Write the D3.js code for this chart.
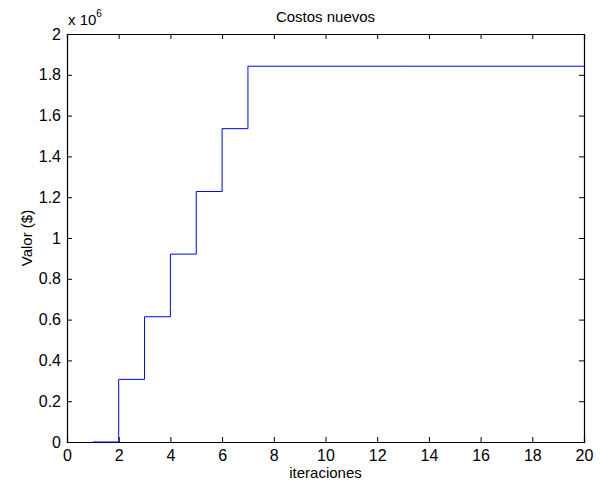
<!DOCTYPE html>
<html>
<head>
<meta charset="utf-8">
<script src="https://cdn.jsdelivr.net/npm/d3@7"></script>
<style>
body{margin:0;background:#fff;}
text{font-family:"Liberation Sans",Arial,sans-serif;}
</style>
</head>
<body>
<div class="container"></div>
<script>
// iteration and cost (in millions)
const iterations = [1,2,3,4,5,6,7,8,9,10,11,12,13,14,15,16,17,18,19,20];
const costs = [0,0.307,0.614,0.921,1.228,1.536,1.842,1.842,1.842,1.842,1.842,1.842,1.842,1.842,1.842,1.842,1.842,1.842,1.842,1.842];
const xTicks = [0,2,4,6,8,10,12,14,16,18,20];
const yTicks = [0,0.2,0.4,0.6,0.8,1,1.2,1.4,1.6,1.8,2];

const width = 601, height = 485;
const padLeft = 67, padRight = 584, padTop = 34, padBottom = 442;

const svg = d3.select(".container").append("svg").attr("width",width).attr("height",height)

const xScale = d3.scaleLinear().domain([0,20]).range([padLeft,padRight])
const yScale = d3.scaleLinear().domain([0,2]).range([padBottom,padTop])

// axes, ticks inward like matlab
const tick = 5;
svg.append("g").attr("transform","translate(0,"+padBottom+")")
    .call(d3.axisBottom(xScale).tickValues(xTicks).tickSize(-tick).tickPadding(8).tickFormat(d3.format("d")))
svg.append("g").attr("transform","translate(0,"+padTop+")")
    .call(d3.axisTop(xScale).tickValues(xTicks).tickSize(-tick).tickFormat(""))
svg.append("g").attr("transform","translate("+padLeft+",0)")
    .call(d3.axisLeft(yScale).tickValues(yTicks).tickSize(-tick).tickPadding(6).tickFormat((d)=> d3.format("")(+d.toFixed(1))))
svg.append("g").attr("transform","translate("+padRight+",0)")
    .call(d3.axisRight(yScale).tickValues(yTicks).tickSize(-tick).tickFormat(""))

svg.selectAll(".domain").attr("stroke","#000").attr("stroke-width",1.2)
svg.selectAll(".tick line").attr("stroke","#000")
svg.selectAll(".tick text").attr("fill","#000").style("font-size","16px").style("font-family","'Liberation Sans',Arial,sans-serif")

// stairs line, on top of the axes
const line = d3.line()
    .x((d)=> xScale(d[0]))
    .y((d)=> yScale(d[1]))
    .curve(d3.curveStepAfter)
svg.append("path")
    .datum(iterations.map((it,i)=>[it,costs[i]]))
    .attr("d",line)
    .attr("fill","none")
    .attr("stroke","#0000ff")
    .attr("stroke-width",1)

svg.append("text").text("Costos nuevos")
    .attr("x",(padLeft+padRight)/2).attr("y",22)
    .attr("text-anchor","middle").style("font-size","15px")

const exp = svg.append("text").attr("x",padLeft+1).attr("y",25).style("font-size","15px")
exp.append("tspan").text("x 10")
exp.append("tspan").text("6").attr("dy",-8).style("font-size","10px")

svg.append("text").text("iteraciones")
    .attr("x",(padLeft+padRight)/2).attr("y",478)
    .attr("text-anchor","middle").style("font-size","15px")

svg.append("text").text("Valor ($)")
    .attr("transform","translate(32,"+((padTop+padBottom)/2)+") rotate(-90)")
    .attr("text-anchor","middle").style("font-size","15px")
</script>
</body>
</html>
